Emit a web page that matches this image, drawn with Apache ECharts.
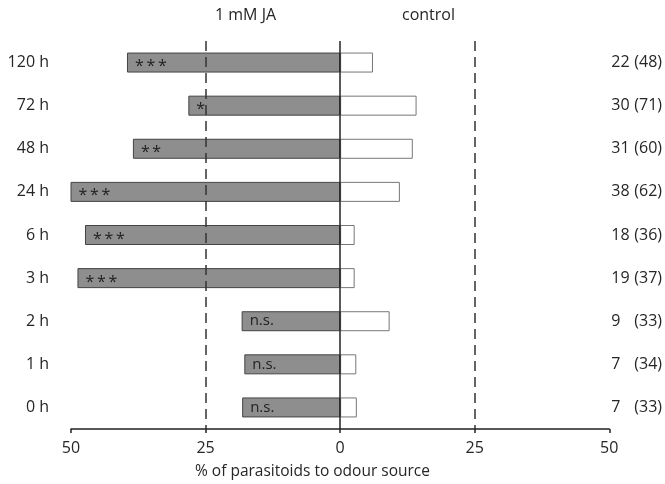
<!DOCTYPE html>
<html>
<head>
<meta charset="utf-8">
<script src="https://cdn.jsdelivr.net/npm/echarts@6/dist/echarts.min.js"></script>
<style>html,body{margin:0;padding:0;background:#fff;}#chart{width:665px;height:484px;}</style>
</head>
<body>
<div id="chart"></div>
<script>
const categories = ['120 h', '72 h', '48 h', '24 h', '6 h', '3 h', '2 h', '1 h', '0 h'];
const jaValues = [39.6, 28.2, 38.5, 50.2, 47.4, 48.8, 18.3, 17.8, 18.2];
const controlValues = [6.1, 14.2, 13.5, 11.1, 2.7, 2.7, 9.2, 3.0, 3.1];
const significance = ['***', '*', '**', '***', '***', '***', 'n.s.', 'n.s.', 'n.s.'];
const responders = [22, 30, 31, 38, 18, 19, 9, 7, 7];
const totals = [48, 71, 60, 62, 36, 37, 33, 34, 33];
const groupLabels = ['1 mM JA', 'control'];
const xAxisTitle = '% of parasitoids to odour source';

const FONT = 'Open Sans';
const TXT = '#262626';

const chart = echarts.init(document.getElementById('chart'), null, {renderer: 'canvas'});

const rightLabels = categories.map((c, i) => '{a|' + responders[i] + '}{b|(' + totals[i] + ')}');

chart.setOption({
  animation: false,
  grid: {left: 71, right: 53, top: 41, bottom: 55, containLabel: false},
  textStyle: {fontFamily: FONT},
  xAxis: {
    type: 'value', min: -50, max: 50, interval: 25,
    axisLine: {show: true, onZero: false, lineStyle: {color: '#222', width: 1.5}},
    axisTick: {show: true, length: 4, lineStyle: {color: '#222', width: 1.5}},
    splitLine: {show: false},
    axisLabel: {formatter: v => String(Math.abs(v)), fontSize: 16, color: TXT, fontFamily: FONT, margin: 11}
  },
  yAxis: [{
    type: 'category', data: categories, inverse: true,
    axisLine: {show: false}, axisTick: {show: false},
    axisLabel: {fontSize: 16, color: TXT, fontFamily: FONT, margin: 22}
  }, {
    type: 'category', data: rightLabels, inverse: true, position: 'right',
    axisLine: {show: false}, axisTick: {show: false},
    axisLabel: {
      align: 'left', margin: 2, fontFamily: FONT,
      rich: {
        a: {fontSize: 16, color: TXT, fontFamily: FONT, width: 23},
        b: {fontSize: 16, color: TXT, fontFamily: FONT}
      }
    }
  }],
  graphic: [
    {type: 'text', left: 215, top: 7, style: {text: groupLabels[0], fontSize: 16, fill: TXT, fontFamily: FONT}},
    {type: 'text', left: 402, top: 7, style: {text: groupLabels[1], fontSize: 16, fill: TXT, fontFamily: FONT}},
    {type: 'text', left: 195, top: 464, style: {text: xAxisTitle, fontSize: 15.5, fill: TXT, fontFamily: FONT}}
  ],
  series: [{
    name: groupLabels[0], type: 'bar', barWidth: 20, barGap: '-100%',
    data: jaValues.map(v => -v),
    itemStyle: {color: '#8e8e8e', borderColor: '#444', borderWidth: 1},
    label: {
      show: true, position: 'insideLeft', distance: 8,
      formatter: p => {
        const s = significance[p.dataIndex];
        return s.indexOf('*') >= 0 ? '{s|' + s.split('').join('\u2009') + '}' : '{n|' + s + '}';
      },
      rich: {
        s: {fontSize: 16, color: '#222', fontFamily: FONT, padding: [8, 0, 0, 0]},
        n: {fontSize: 15, color: '#222', fontFamily: FONT}
      }
    },
    z: 2
  }, {
    name: groupLabels[1], type: 'bar', barWidth: 20, barGap: '-100%',
    data: controlValues,
    itemStyle: {color: '#ffffff', borderColor: '#777', borderWidth: 1},
    z: 2
  }, {
    type: 'line', data: [], z: 5,
    markLine: {
      silent: true, symbol: 'none', label: {show: false},
      data: [
        {xAxis: -25, lineStyle: {type: [10, 6], color: '#333', width: 1.5}},
        {xAxis: 25, lineStyle: {type: [10, 6], color: '#333', width: 1.5}},
        {xAxis: 0, lineStyle: {type: 'solid', color: '#222', width: 1.5}}
      ]
    }
  }]
});
</script>
</body>
</html>
